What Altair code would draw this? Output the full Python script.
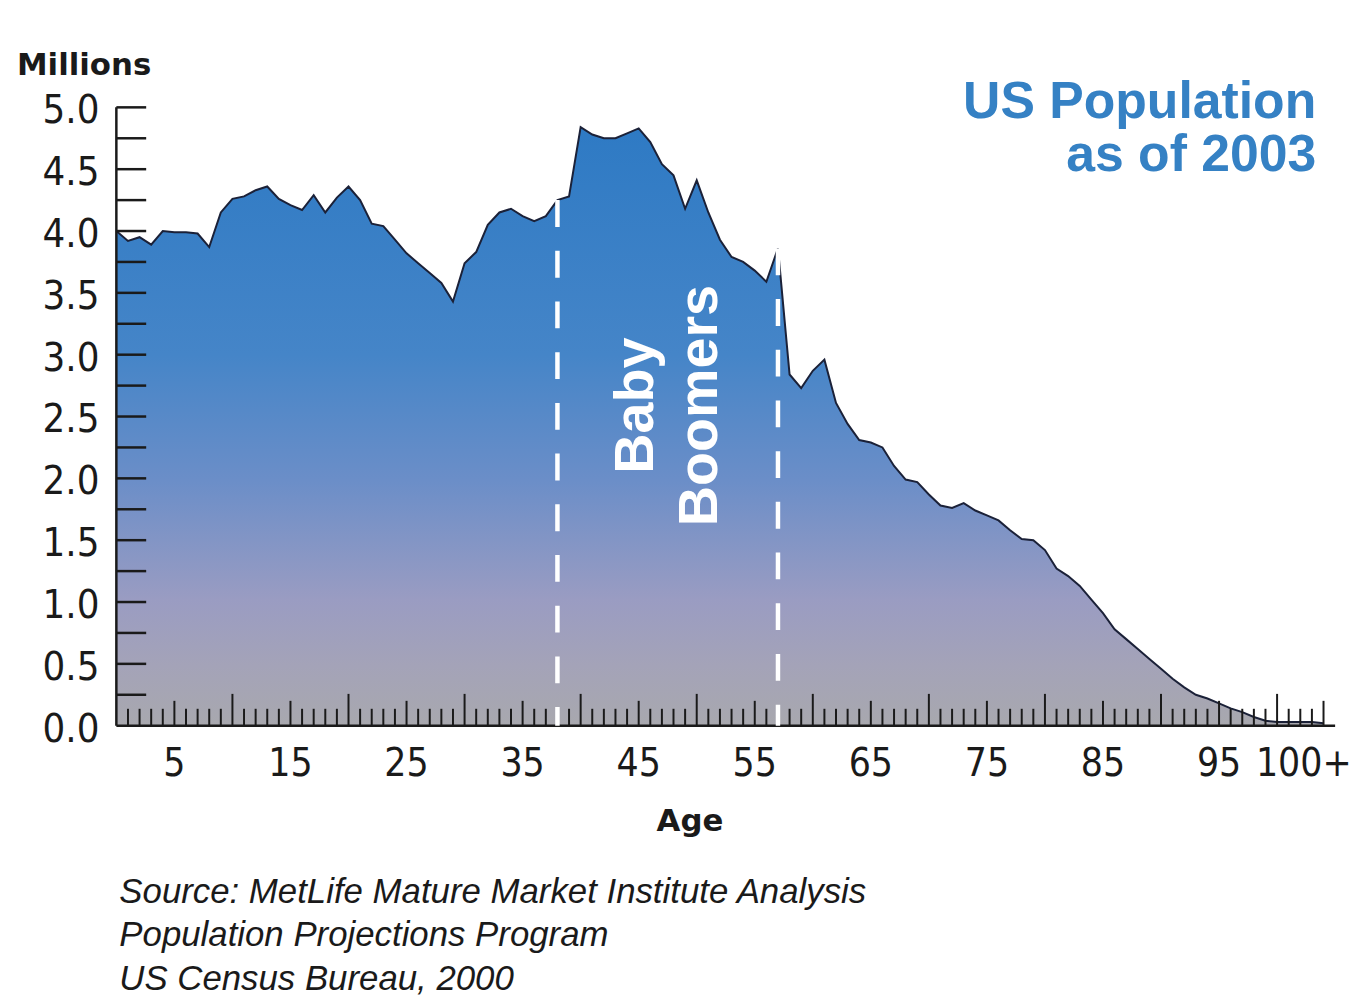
import altair as alt
import pandas as pd

# ---------------- data ----------------
ages = list(range(0, 105))
population_millions = [
    4.00, 3.92, 3.95, 3.89, 4.00, 3.99, 3.99, 3.98, 3.87, 4.15,   # 0-9
    4.26, 4.28, 4.33, 4.36, 4.26, 4.21, 4.17, 4.29, 4.15, 4.27,   # 10-19
    4.36, 4.25, 4.06, 4.04, 3.93, 3.82, 3.74, 3.66, 3.58, 3.43,   # 20-29
    3.74, 3.83, 4.05, 4.15, 4.18, 4.12, 4.08, 4.12, 4.25, 4.28,   # 30-39
    4.84, 4.78, 4.75, 4.75, 4.79, 4.83, 4.72, 4.54, 4.45, 4.18,   # 40-49
    4.41, 4.15, 3.93, 3.79, 3.75, 3.68, 3.59, 3.86, 2.84, 2.73,   # 50-59
    2.87, 2.96, 2.61, 2.44, 2.31, 2.29, 2.25, 2.10, 1.99, 1.97,   # 60-69
    1.87, 1.78, 1.76, 1.80, 1.74, 1.70, 1.66, 1.58, 1.51, 1.50,   # 70-79
    1.42, 1.27, 1.21, 1.13, 1.02, 0.91, 0.78, 0.70, 0.62, 0.54,   # 80-89
    0.46, 0.38, 0.31, 0.25, 0.22, 0.18, 0.14, 0.11, 0.07, 0.04,   # 90-99
    0.03, 0.03, 0.03, 0.03, 0.02,                                 # 100-104
]

x_label_values = [5, 15, 25, 35, 45, 55, 65, 75, 85, 95, 102.3]
x_label_texts = ["5", "15", "25", "35", "45", "55", "65", "75", "85", "95", "100+"]
y_label_values = [0.0, 0.5, 1.0, 1.5, 2.0, 2.5, 3.0, 3.5, 4.0, 4.5, 5.0]
y_label_texts = ["0.0", "0.5", "1.0", "1.5", "2.0", "2.5", "3.0", "3.5", "4.0", "4.5", "5.0"]
major_tick_ages = [10, 20, 30, 40, 50, 60, 70, 80, 90, 100]
mid_tick_ages = [5, 15, 25, 35, 45, 55, 65, 75, 85, 95, 104]
minor_tick_ages = [a for a in range(1, 104) if a % 5 != 0]
y_tick_values = [0.25, 0.5, 0.75, 1.0, 1.25, 1.5, 1.75, 2.0, 2.25, 2.5,
                 2.75, 3.0, 3.25, 3.5, 3.75, 4.0, 4.25, 4.5, 4.75, 5.0]
boomer_line_ages = [38, 57]
boomer_line_tops = [4.25, 3.86]

title_lines = ["US Population", "as of 2003"]
boomer_lines = ["Baby", "Boomers"]
y_title = "Millions"
x_title = "Age"
source_lines = [
    "Source: MetLife Mature Market Institute Analysis",
    "Population Projections Program",
    "US Census Bureau, 2000",
]

# ---------------- layout ----------------
W, H = 1226, 622
INK = "#1a1a1a"
NUM_FONT = "Liberation Sans Narrow, DejaVu Sans Condensed, Liberation Sans"

df = pd.DataFrame({"age": ages, "pop": population_millions})
x_scale = alt.Scale(domain=[0, 105], nice=False, zero=False)
y_scale = alt.Scale(domain=[0, 5], nice=False)

gradient = alt.Gradient(
    gradient="linear", x1=0, x2=0, y1=0, y2=1,
    stops=[
        alt.GradientStop(offset=0.0, color="#2e7ac4"),
        alt.GradientStop(offset=0.38, color="#4585c8"),
        alt.GradientStop(offset=0.59, color="#6b8ec8"),
        alt.GradientStop(offset=0.79, color="#9a9cc2"),
        alt.GradientStop(offset=0.90, color="#a4a3b8"),
        alt.GradientStop(offset=1.0, color="#a8a8ae"),
    ],
)

area = alt.Chart(df).mark_area(
    color=gradient, opacity=1, fillOpacity=1,
    line={"color": "#1b2138", "strokeWidth": 2},
).encode(
    x=alt.X("age:Q", scale=x_scale, axis=None),
    y=alt.Y("pop:Q", scale=y_scale, axis=None),
)

def x_ticks(values, length):
    return alt.Chart(pd.DataFrame({"age": values})).mark_rule(
        color=INK, strokeWidth=2
    ).encode(
        x=alt.X("age:Q", scale=x_scale, axis=None),
        y=alt.value(H),
        y2=alt.value(H - length),
    )

minor_ticks = x_ticks(minor_tick_ages, 17)
mid_ticks = x_ticks(mid_tick_ages, 25)
major_ticks = x_ticks(major_tick_ages, 32)

y_ticks = alt.Chart(pd.DataFrame({"pop": y_tick_values})).mark_rule(
    color=INK, strokeWidth=2.5
).encode(
    y=alt.Y("pop:Q", scale=y_scale, axis=None),
    x=alt.value(0),
    x2=alt.value(30),
)

one = alt.Data(values=[{}])
x_domain = alt.Chart(one).mark_rule(color=INK, strokeWidth=2.5).encode(
    x=alt.value(0), x2=alt.value(W), y=alt.value(H))
y_domain = alt.Chart(one).mark_rule(color=INK, strokeWidth=2.5).encode(
    x=alt.value(0), y=alt.value(0), y2=alt.value(H))

x_labels = alt.Chart(
    pd.DataFrame({"age": x_label_values, "label": x_label_texts})
).mark_text(
    align="center", baseline="alphabetic", font=NUM_FONT, fontSize=39, color=INK,
).encode(
    x=alt.X("age:Q", scale=x_scale, axis=None),
    y=alt.value(H + 51),
    text="label:N",
)

y_labels = alt.Chart(
    pd.DataFrame({"pop": y_label_values, "label": y_label_texts})
).mark_text(
    align="right", baseline="middle", dy=4, font=NUM_FONT, fontSize=40, color=INK,
).encode(
    y=alt.Y("pop:Q", scale=y_scale, axis=None),
    x=alt.value(-17),
    text="label:N",
)

y_title_text = alt.Chart(one).mark_text(
    align="left", baseline="alphabetic", font="DejaVu Sans", fontSize=31,
    fontWeight="bold", color=INK,
).encode(x=alt.value(-100), y=alt.value(-33), text=alt.value(y_title))

x_title_text = alt.Chart(one).mark_text(
    align="center", baseline="alphabetic", font="DejaVu Sans", fontSize=31,
    fontWeight="bold", color=INK,
).encode(x=alt.value(577), y=alt.value(H + 106), text=alt.value(x_title))

boomer_rules = alt.Chart(
    pd.DataFrame({"age": boomer_line_ages, "top": boomer_line_tops})
).mark_rule(color="white", strokeWidth=4.5, strokeDash=[27, 24]).encode(
    x=alt.X("age:Q", scale=x_scale, axis=None),
    y=alt.Y("top:Q", scale=y_scale, axis=None),
    y2=alt.datum(0),
)

boomer_text = alt.Chart(one).mark_text(
    angle=270, align="center", baseline="middle", font="Liberation Sans",
    fontSize=56, fontWeight="bold", color="white", lineHeight=64,
).encode(x=alt.value(523), y=alt.value(300), text=alt.value(boomer_lines))

title_text = alt.Chart(one).mark_text(
    align="right", baseline="alphabetic", font="Liberation Sans",
    fontSize=52, fontWeight="bold", color="#3581c4", lineHeight=53,
).encode(x=alt.value(1207), y=alt.value(11), text=alt.value(title_lines))

source_text = alt.Chart(one).mark_text(
    align="left", baseline="alphabetic", font="Liberation Sans",
    fontSize=35, fontStyle="italic", color=INK, lineHeight=44,
).encode(x=alt.value(3), y=alt.value(800), text=alt.value(source_lines))

chart = alt.layer(
    area, y_ticks, minor_ticks, mid_ticks, major_ticks,
    x_domain, y_domain, boomer_rules, boomer_text,
    x_labels, y_labels, x_title_text, y_title_text, title_text, source_text,
).properties(
    width=W, height=H,
    autosize=alt.AutoSizeParams(type="none"),
    padding={"left": 109, "top": 97, "right": 21, "bottom": 275},
    background="white",
).configure_view(stroke=None)

chart.save("out.html", embed_options={"renderer": "svg", "actions": False})
